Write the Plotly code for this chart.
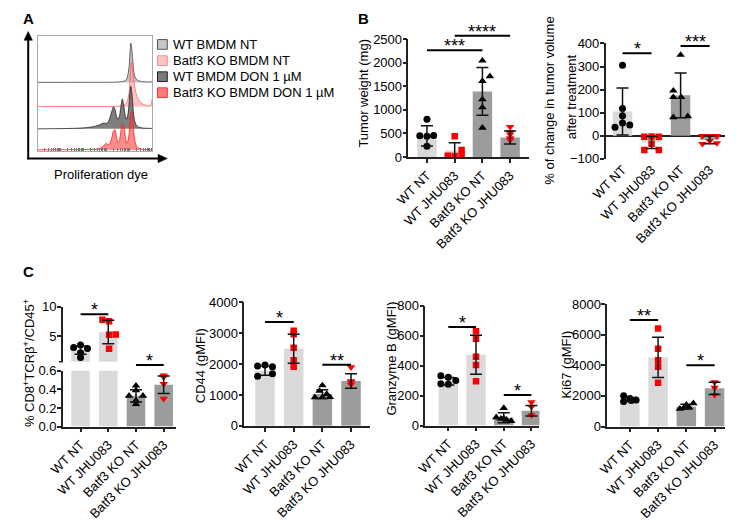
import plotly.graph_objects as go

# page body has an 8px default margin: draw in reference-pixel coordinates
PAGE_MARGIN = 8
W, H = 739 - PAGE_MARGIN, 530 - PAGE_MARGIN
def fx(x): return (x - PAGE_MARGIN) / W
def fy(y): return 1 - (y - PAGE_MARGIN) / H

FONT = "Arial, Liberation Sans, Helvetica, sans-serif"

# ---------------- DATA ----------------
CATEGORIES = ["WT NT", "WT JHU083", "Batf3 KO NT", "Batf3 KO JHU083"]

# Panel A: proliferation dye histograms (log10 dye intensity, relative counts)
HIST_LABELS = ["WT BMDM NT", "Batf3 KO BMDM NT", "WT BMDM DON 1 µM", "Batf3 KO BMDM DON 1 µM"]
DYE_LOG = [0.0, 1.2, 2.05, 2.48, 2.69, 2.82, 2.91, 2.99, 3.08, 3.16, 3.25, 3.31,
           3.38, 3.44, 3.50, 3.57, 3.63, 3.70, 3.76, 3.83, 3.89, 3.95, 4.00, 4.04,
           4.07, 4.10, 4.15, 4.19, 4.25, 4.32, 4.40, 4.53, 4.70, 4.87, 4.96, 5.0]
H_WT_NT = [0.3, 0.3, 0.3, 0.3, 0.3, 0.3, 0.3, 0.3, 0.3, 0.4, 0.4, 0.5,
           0.5, 0.6, 0.7, 0.8, 1.0, 1.2, 1.5, 2.2, 4, 9, 18, 33,
           41, 37, 24, 13, 6, 3.5, 2, 1.2, 0.8, 0.6, 0.8, 2]
H_KO_NT = [0.2, 0.2, 0.2, 0.2, 0.2, 0.2, 0.2, 0.2, 0.2, 0.2, 0.2, 0.3,
           0.3, 0.4, 0.5, 0.6, 0.8, 1.1, 1.6, 2.5, 4.5, 9, 16, 30,
           42, 46, 40, 29, 19, 12, 7, 3.5, 1.5, 0.8, 2, 8]
H_WT_DON = [0, 0.3, 1, 2.5, 4, 5.5, 6, 5.5, 7, 12, 19, 23,
            20, 13, 10, 13, 22, 31, 24, 13, 10, 16, 28, 40,
            44, 40, 27, 15, 7, 3.5, 2, 1, 0.6, 0.5, 0.5, 0.5]
H_KO_DON = [0.2, 0.3, 0.5, 0.8, 1.5, 3, 5, 7, 5.5, 7, 14, 20,
            21, 14, 8, 10, 19, 27, 25, 14, 7, 10, 18, 30,
            38, 40, 33, 20, 9, 4, 2, 1, 0.5, 0.3, 0.3, 0.3]

# Panel B left: tumor weight (mg)
TW_MEAN = [450, 140, 1390, 415]
TW_SD = [215, 165, 505, 137]
TW_PTS = [[800, 450, 440, 455, 230],
          [440, 150, 30, 25, 30],
          [2040, 1710, 1610, 1220, 1050, 620],
          [640, 530, 480, 400, 360]]

# Panel B right: % change in tumor volume
TV_MEAN = [105, -30, 175, -18]
TV_SD = [102, 26, 97, 17]
TV_PTS = [[305, 118, 87, 55, 46, 37],
          [-5, -5, -3, -35, -62, -62],
          [350, 195, 167, 167, 80, 84],
          [-1, -1, -1, -35, -32, -22]]

# Panel C1: % CD8+TCRb+/CD45+
CD8_MEAN = [2.65, 5.7, 0.33, 0.45]
CD8_SD = [0.7, 2.0, 0.065, 0.095]
CD8_PTS = [[3.1, 3.5, 2.9, 2.2, 1.4],
           [7.8, 7.55, 5.25, 5.3, 2.85],
           [0.44, 0.39, 0.33, 0.33, 0.28, 0.24],
           [0.55, 0.53, 0.46, 0.30]]

# Panel C2: CD44 (gMFI)
CD44_MEAN = [1790, 2500, 1030, 1455]
CD44_SD = [150, 470, 140, 235]
CD44_PTS = [[1940, 1975, 1920, 1610, 1690],
            [3080, 2970, 2530, 2130, 1920],
            [1310, 1130, 1030, 920, 920, 930],
            [1900, 1420, 1340, 1450]]

# Panel C3: Granzyme B (gMFI)
GZMB_MEAN = [295, 473, 52, 99]
GZMB_SD = [25, 130, 33, 35]
GZMB_PTS = [[333, 322, 300, 279, 275],
            [630, 580, 460, 405, 295],
            [117, 55, 45, 38, 30, 48],
            [156, 125, 70]]

# Panel C4: Ki67 (gMFI)
KI67_MEAN = [1770, 4520, 1300, 2500]
KI67_SD = [130, 1310, 160, 400]
KI67_PTS = [[2010, 1840, 1735, 1630, 1700],
            [6410, 5080, 4340, 3915, 2860],
            [1160, 1420, 1520, 1250, 1200],
            [2900, 2540, 2070]]

# ---------------- STYLE / POSITIONS ----------------
TW_JIT = [[0, -0.26, 0, 0.24, 0], [0, 0.25, -0.25, 0, 0.25],
          [0, 0.27, 0, 0, 0, 0], [0, 0, 0, 0, 0]]
TV_JIT = [[0, 0, 0, 0, 0.25, -0.26], [-0.25, 0.25, 0, 0, -0.25, 0.25],
          [0, -0.25, -0.25, 0.02, -0.25, 0.25], [-0.25, 0, 0.25, -0.25, 0.25, 0]]
CD8_JIT = [[-0.25, 0, 0.25, 0, 0], [-0.21, 0.03, 0.03, 0.27, 0.03],
           [0, 0, -0.25, 0.25, 0, 0], [0, 0, 0, 0]]
CD44_JIT = [[-0.26, 0, 0.26, -0.26, 0.26], [0, 0, 0, 0, 0],
            [0, -0.1, 0.15, -0.26, 0, 0.26], [0, 0, 0, 0]]
GZMB_JIT = [[-0.27, 0, 0.27, -0.27, 0], [0, 0, 0, 0, 0],
            [0, -0.27, -0.1, 0.1, 0.27, 0], [0, 0, 0]]
KI67_JIT = [[-0.22, 0, 0.22, -0.22, 0.05], [0, 0, 0, 0, 0],
            [-0.23, 0, 0.25, 0.1, -0.1], [0, 0, 0]]

BAR_COLORS = ["#dadada", "#dadada", "#9c9c9c", "#9c9c9c"]
MK_SYMBOL = ["circle", "square", "triangle-up", "triangle-down"]
MK_COLOR = ["black", "#ff0000", "black", "#ff0000"]
MK_SIZE = [7, 6.5, 7.5, 7.5]
AX_COL = "#222222"

fig = go.Figure()

# ---------- Panel A ----------
HIST_OFFSETS = [70, 45, 22, 0]
HIST_FILL = ["rgba(185,185,185,0.85)", "rgba(255,150,150,0.55)",
             "rgba(95,95,95,0.8)", "rgba(255,60,60,0.6)"]
HIST_LINE = ["#444444", "#ff6060", "#222222", "#ff2020"]
dye_x = [10 ** v for v in DYE_LOG]
for hvals, off, fc, lc in zip([H_WT_NT, H_KO_NT, H_WT_DON, H_KO_DON],
                              HIST_OFFSETS, HIST_FILL, HIST_LINE):
    fig.add_trace(go.Scatter(x=[dye_x[0], dye_x[-1]], y=[off, off], mode="lines",
                             line=dict(width=0), hoverinfo="skip", xaxis="x", yaxis="y"))
    fig.add_trace(go.Scatter(x=dye_x, y=[off + v for v in hvals], mode="lines",
                             line=dict(color=lc, width=0.8, shape="spline", smoothing=0.7),
                             fill="tonexty", fillcolor=fc, xaxis="x", yaxis="y"))

layout_axes = {}
layout_axes["xaxis"] = dict(domain=[fx(22), fx(139)], type="log", range=[0, 5],
                            showline=True, mirror=True, linecolor="#aaaaaa", linewidth=1,
                            ticks="inside", ticklen=2.5, tickwidth=0.7, tickcolor="#777777",
                            dtick="D1", showticklabels=False, showgrid=False, zeroline=False,
                            anchor="y")
layout_axes["yaxis"] = dict(domain=[fy(148), fy(30)], range=[-1, 118],
                            showline=True, mirror=True, linecolor="#aaaaaa", linewidth=1,
                            ticks="", showticklabels=False, showgrid=False, zeroline=False,
                            anchor="x")


def yax(n, dom_px, rng, tickvals, ticktext=None, **kw):
    d = dict(domain=[fy(dom_px[1]), fy(dom_px[0])], range=rng, showline=True,
             linecolor=AX_COL, linewidth=1.5, ticks="outside", ticklen=4, tickwidth=1.5,
             tickcolor=AX_COL, showgrid=False, zeroline=False, tickvals=tickvals,
             ticklabelstandoff=-2,
             tickfont=dict(size=13, color="black", family=FONT), anchor=f"x{n}")
    if ticktext is not None:
        d["ticktext"] = ticktext
    d.update(kw)
    return d


def xax(n, dom_px, rng, **kw):
    d = dict(domain=[fx(dom_px[0]), fx(dom_px[1])], range=rng, showline=True,
             linecolor=AX_COL, linewidth=1.5, ticks="outside", ticklen=4, tickwidth=1.5,
             tickcolor=AX_COL, showgrid=False, zeroline=False, tickvals=[0, 1, 2, 3],
             ticktext=CATEGORIES, tickangle=-45,
             tickfont=dict(size=13, color="black", family=FONT), anchor=f"y{n}")
    d.update(kw)
    return d


def add_bars(n, means, bw):
    fig.add_trace(go.Bar(x=[0, 1, 2, 3], y=means, width=bw, marker_color=BAR_COLORS,
                         marker_line_width=0, xaxis=f"x{n}", yaxis=f"y{n}"))


def add_points_err(n, means, sds, pts, jits, groups):
    for g in groups:
        fig.add_trace(go.Scatter(x=[g + j for j in jits[g]], y=pts[g], mode="markers",
                                 marker=dict(symbol=MK_SYMBOL[g], color=MK_COLOR[g],
                                             size=MK_SIZE[g], line=dict(width=0)),
                                 xaxis=f"x{n}", yaxis=f"y{n}"))
    fig.add_trace(go.Scatter(x=groups, y=[means[g] for g in groups], mode="markers",
                             marker=dict(size=2, color="rgba(0,0,0,0)"),
                             error_y=dict(type="data", array=[sds[g] for g in groups],
                                          color="#111111", thickness=1.5, width=6),
                             xaxis=f"x{n}", yaxis=f"y{n}"))


ALL = [0, 1, 2, 3]

# ---------- Panel B left ----------
add_bars(2, TW_MEAN, 0.7)
add_points_err(2, TW_MEAN, TW_SD, TW_PTS, TW_JIT, ALL)
layout_axes["xaxis2"] = xax(2, (401, 524), [-0.67, 3.67])
layout_axes["yaxis2"] = yax(2, (32.7, 154.3), [0, 2500], [0, 500, 1000, 1500, 2000, 2500])

# ---------- Panel B right ----------
add_bars(3, TV_MEAN, 0.67)
add_points_err(3, TV_MEAN, TV_SD, TV_PTS, TV_JIT, ALL)
layout_axes["xaxis3"] = xax(3, (602.7, 725), [-0.58, 3.54], showline=False, ticks="")
layout_axes["yaxis3"] = yax(3, (37.3, 156), [-100, 400], [-100, 0, 100, 200, 300, 400],
                            zeroline=True, zerolinecolor=AX_COL, zerolinewidth=1.5)

# ---------- Panel C1 (broken axis) ----------
LOWER_TOP = 0.6
UPPER_BOTTOM = 0.67
add_bars(4, CD8_MEAN, 0.67)
add_points_err(4, CD8_MEAN, CD8_SD, CD8_PTS, CD8_JIT, [g for g in ALL if CD8_MEAN[g] < LOWER_TOP])
add_bars(5, CD8_MEAN, 0.67)
add_points_err(5, CD8_MEAN, CD8_SD, CD8_PTS, CD8_JIT, [g for g in ALL if CD8_MEAN[g] > UPPER_BOTTOM])
layout_axes["xaxis4"] = xax(4, (47.7, 163), [-0.64, 3.43])
layout_axes["yaxis4"] = yax(4, (374.3, 431.7), [0, LOWER_TOP], [0, 0.2, 0.4, 0.6],
                            ["0.0", "0.2", "0.4", "0.6"])
layout_axes["xaxis5"] = xax(5, (47.7, 163), [-0.64, 3.43], visible=False)
layout_axes["yaxis5"] = yax(5, (308.3, 365), [UPPER_BOTTOM, 10], [5, 10])

# ---------- Panel C2 ----------
add_bars(6, CD44_MEAN, 0.68)
add_points_err(6, CD44_MEAN, CD44_SD, CD44_PTS, CD44_JIT, ALL)
layout_axes["xaxis6"] = xax(6, (233.3, 361.7), [-0.72, 3.66])
layout_axes["yaxis6"] = yax(6, (304, 431), [0, 4000], [0, 1000, 2000, 3000, 4000])

# ---------- Panel C3 ----------
add_bars(7, GZMB_MEAN, 0.7)
add_points_err(7, GZMB_MEAN, GZMB_SD, GZMB_PTS, GZMB_JIT, ALL)
layout_axes["xaxis7"] = xax(7, (418.3, 535), [-0.83, 3.29])
layout_axes["yaxis7"] = yax(7, (307.3, 430.7), [0, 800], [0, 200, 400, 600, 800])

# ---------- Panel C4 ----------
add_bars(8, KI67_MEAN, 0.69)
add_points_err(8, KI67_MEAN, KI67_SD, KI67_PTS, KI67_JIT, ALL)
layout_axes["xaxis8"] = xax(8, (604.3, 725), [-0.8, 3.38])
layout_axes["yaxis8"] = yax(8, (305.7, 431.7), [0, 8000], [0, 2000, 4000, 6000, 8000])

# ---------- significance brackets ----------
SIG = [(2, 0, 2, "***", 44.3), (2, 1, 3, "****", 29.3),
       (3, 0, 1, "*", 47.3), (3, 2, 3, "***", 40),
       (4, 0, 1, "*", 316), (4, 2, 3, "*", 368.3),
       (6, 0, 1, "*", 324), (6, 2, 3, "**", 368),
       (7, 0, 1, "*", 329.3), (7, 2, 3, "*", 399.3),
       (8, 0, 1, "**", 322), (8, 2, 3, "*", 368.7)]

shapes = []
annotations = []
for n, i0, i1, txt, yl in SIG:
    shapes.append(dict(type="line", xref=f"x{n}", yref="paper", x0=i0, x1=i1,
                       y0=fy(yl), y1=fy(yl), line=dict(color="black", width=2)))
    annotations.append(dict(xref=f"x{n}", yref="paper", x=(i0 + i1) / 2, y=fy(yl - 4),
                            text=txt, showarrow=False, xanchor="center", yanchor="middle",
                            font=dict(size=18, color="black", family=FONT)))

# broken-axis tick at the bottom of the upper segment of C1
shapes.append(dict(type="line", xref="paper", yref="paper", x0=fx(43.7), x1=fx(47.7),
                   y0=fy(365), y1=fy(365), line=dict(color=AX_COL, width=1.5)))

# ---------- Panel A decorations (arrows, legend, label) ----------
def path(pts):
    return "M " + " L ".join(f"{fx(x)},{fy(y)}" for x, y in pts) + " Z"

shapes.append(dict(type="line", xref="paper", yref="paper", x0=fx(12.3), x1=fx(12.3),
                   y0=fy(156.5), y1=fy(32), line=dict(color="black", width=2)))
shapes.append(dict(type="path", xref="paper", yref="paper",
                   path=path([(8, 34), (12.3, 25), (16.6, 34)]),
                   fillcolor="black", line=dict(color="black", width=0.5)))
shapes.append(dict(type="line", xref="paper", yref="paper", x0=fx(11.3), x1=fx(147),
                   y0=fy(155.7), y1=fy(155.7), line=dict(color="black", width=2)))
shapes.append(dict(type="path", xref="paper", yref="paper",
                   path=path([(145, 151.4), (154.5, 155.7), (145, 160)]),
                   fillcolor="black", line=dict(color="black", width=0.5)))

LEG_Y = [38.3, 55, 71.5, 88]
LEG_FILL = ["#c6c6c6", "#ffc4c4", "#7a7a7a", "#ff7b7b"]
LEG_LINE = ["#555555", "#ff8a8a", "#222222", "#ff3030"]
for lab, yc, fc, lc in zip(HIST_LABELS, LEG_Y, LEG_FILL, LEG_LINE):
    shapes.append(dict(type="rect", xref="paper", yref="paper", x0=fx(144.5), x1=fx(154.5),
                       y0=fy(yc + 5), y1=fy(yc - 5), fillcolor=fc, line=dict(color=lc, width=1)))
    annotations.append(dict(xref="paper", yref="paper", x=fx(158.5), y=fy(yc), text=lab,
                            showarrow=False, xanchor="left", yanchor="middle",
                            font=dict(size=13, color="black", family=FONT)))

annotations.append(dict(xref="paper", yref="paper", x=fx(87), y=fy(172.5),
                        text="Proliferation dye", showarrow=False, xanchor="center",
                        yanchor="middle", font=dict(size=13, color="black", family=FONT)))

for lab, x, y in [("A", 12.5, 12), ("B", 355.5, 12), ("C", 12.5, 272)]:
    annotations.append(dict(xref="paper", yref="paper", x=fx(x), y=fy(y), text=f"<b>{lab}</b>",
                            showarrow=False, xanchor="center", yanchor="middle",
                            font=dict(size=15, color="black", family=FONT)))

# ---------- axis titles ----------
YTITLES = [("Tumor weight (mg)", 355.5, 88),
           ("% of change in tumor volume", 545, 96),
           ("after treatment", 568, 92),
           ("% CD8<sup>+</sup>TCRβ<sup>+</sup>/CD45<sup>+</sup>", 12.5, 366),
           ("CD44 (gMFI)", 188.5, 369),
           ("Granzyme B (gMFI)", 384, 362),
           ("Ki67 (gMFI)", 563, 368)]
for txt, x, y in YTITLES:
    annotations.append(dict(xref="paper", yref="paper", x=fx(x), y=fy(y), text=txt,
                            showarrow=False, textangle=-90, xanchor="center", yanchor="middle",
                            font=dict(size=13, color="black", family=FONT)))

fig.update_layout(width=W, height=H, margin=dict(l=0, r=0, t=0, b=0),
                  paper_bgcolor="white", plot_bgcolor="white", showlegend=False,
                  font=dict(family=FONT, size=13, color="black"), barmode="overlay",
                  shapes=shapes, annotations=annotations, **layout_axes)

fig.write_html("out.html")
